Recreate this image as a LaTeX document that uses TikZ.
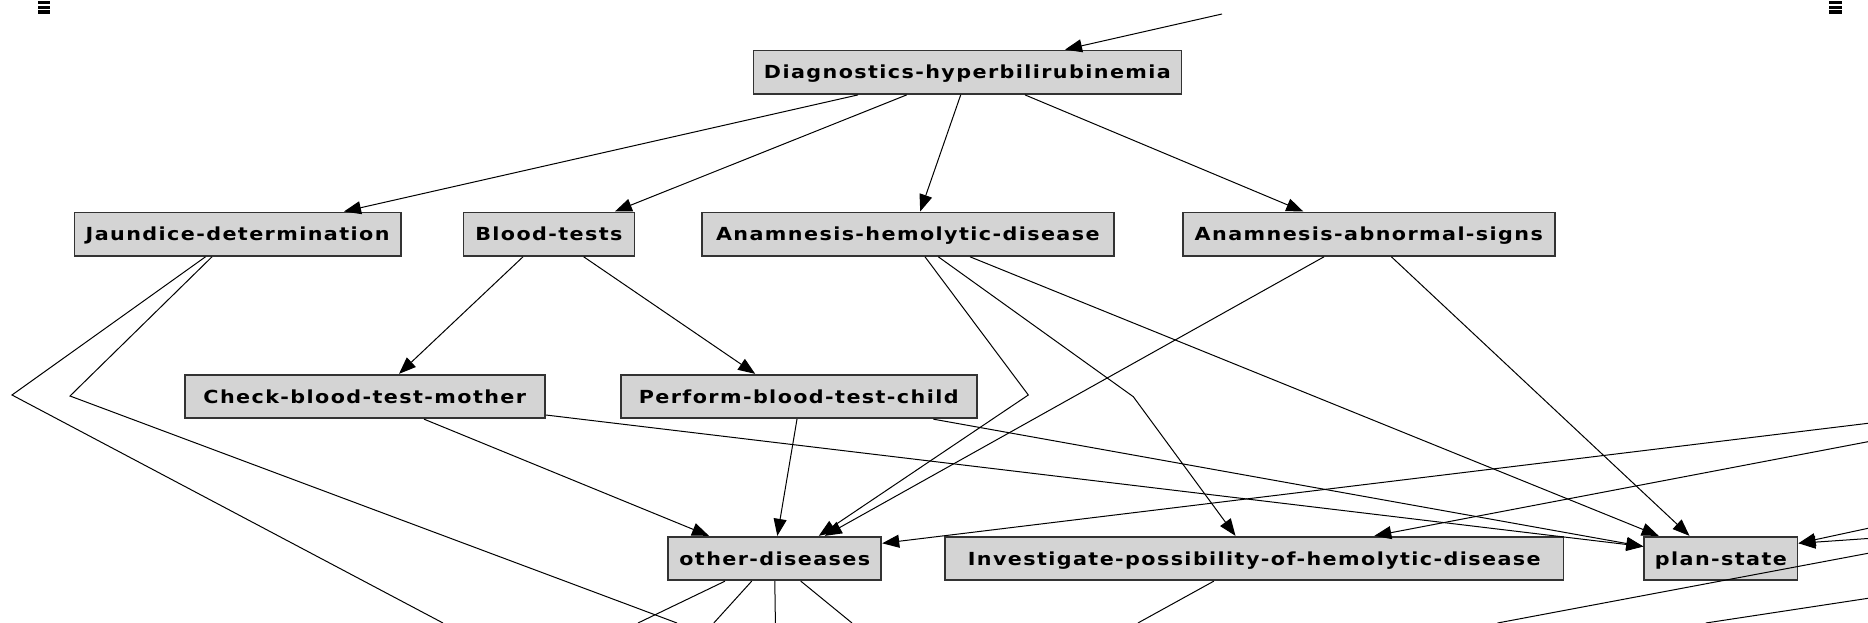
\documentclass[tikz,border=0pt]{standalone}
\usepackage{fontspec}
\newfontfamily\nodefont{DejaVu Sans}[LetterSpace=7.8, FakeStretch=1.15]
\usetikzlibrary{arrows.meta}
\definecolor{boxgray}{HTML}{D4D4D4}

\begin{document}
\begin{tikzpicture}[x=1pt, y=-1pt, line width=1pt, >={Triangle[length=17pt,width=13pt]},
  box/.style={draw=black!80, line width=1.8pt, fill=boxgray, inner sep=0pt, minimum height=43.5pt,
    text height=13.3pt, text depth=0pt, font=\nodefont\bfseries\fontsize{18}{20}\selectfont}]
\useasboundingbox (0,0) rectangle (1868,623);

\foreach \mx in {37.7,1829} {
  \fill (\mx,1) rectangle ++(12.5,3.3);
  \fill (\mx,5.6) rectangle ++(12.5,3.3);
  \fill (\mx,10.2) rectangle ++(12.5,3.6);
}

\node (diag) [box, minimum width=428pt] at (967.4,72.25) {Diagnostics-hyperbilirubinemia};
\node (jaundice) [box, minimum width=326.4pt] at (237.6,234.15) {Jaundice-determination};
\node (blood) [box, minimum width=171pt] at (548.9,234.15) {Blood-tests};
\node (anahem) [box, minimum width=412.3pt] at (907.8,234.15) {Anamnesis-hemolytic-disease};
\node (anaabn) [box, minimum width=371.6pt] at (1368.8,234.15) {Anamnesis-abnormal-signs};
\node (checkmother) [box, minimum width=360.4pt] at (364.8,396.5) {Check-blood-test-mother};
\node (performchild) [box, minimum width=356.2pt] at (798.7,396.5) {Perform-blood-test-child};
\node (other) [box, minimum width=213pt] at (774.8,558.5) {other-diseases};
\node (investigate) [box, minimum width=618.7pt] at (1254.2,558.5) {Investigate-possibility-of-hemolytic-disease};
\node (plan) [box, minimum width=153.3pt] at (1720.9,558.5) {plan-state};

\coordinate (feedtop) at (1222,14);
\coordinate (jbendout) at (12,395);
\coordinate (jendout) at (443,623);
\coordinate (jbendin) at (70,396);
\coordinate (jendin) at (677,623);
\coordinate (hembendother) at (1028.3,395);
\coordinate (hembendinv) at (1133.3,396.7);
\coordinate (rightin1) at (1868,423.3);
\coordinate (rightin2) at (1868,441.7);
\coordinate (rightin3) at (1868,528.3);
\coordinate (rightin4) at (1868,538.5);
\coordinate (otherout1) at (638,623);
\coordinate (otherout2) at (713.8,623);
\coordinate (otherout3) at (775.4,623);
\coordinate (otherout4) at (852,623);
\coordinate (invout) at (1137.9,623);
\coordinate (strayA1) at (1497.5,623);
\coordinate (strayA2) at (1868,553.3);
\coordinate (strayB1) at (1705.8,623);
\coordinate (strayB2) at (1868,598.3);

\draw[->] (feedtop) -- ([xshift=97.6pt]diag.north);
\draw[->] ([xshift=-109.4pt]diag.south) -- ([xshift=106.4pt]jaundice.north);
\draw[->] ([xshift=-60.7pt]diag.south) -- ([xshift=66pt]blood.north);
\draw[->] ([xshift=-6.7pt]diag.south) -- ([xshift=12.4pt]anahem.north);
\draw[->] ([xshift=57.6pt]diag.south) -- ([xshift=-65.5pt]anaabn.north);

\draw ([xshift=-32.1pt]jaundice.south) -- (jbendout) -- (jendout);
\draw ([xshift=-25.6pt]jaundice.south) -- (jbendin) -- (jendin);

\draw[->] ([xshift=-25.9pt]blood.south) -- ([xshift=34.2pt]checkmother.north);
\draw[->] ([xshift=34.8pt]blood.south) -- ([xshift=-43.5pt]performchild.north);

\draw[->] ([xshift=17.2pt]anahem.south) -- (hembendother) -- ([xshift=44pt]other.north);
\draw[->] ([xshift=30.5pt]anahem.south) -- (hembendinv) -- ([xshift=-18.7pt]investigate.north);
\draw[->] ([xshift=62.2pt]anahem.south) -- ([xshift=-62.2pt]plan.north);

\draw[->] ([xshift=-44.8pt]anaabn.south) -- ([xshift=50pt]other.north);
\draw[->] ([xshift=22.6pt]anaabn.south) -- ([xshift=-31.4pt]plan.north);

\draw[->] ([xshift=59.2pt]checkmother.south) -- ([xshift=-65.8pt]other.north);
\draw[->] ([yshift=-18.5pt]checkmother.east) -- ([yshift=12pt]plan.west);
\draw[->] ([xshift=-1.7pt]performchild.south) -- ([xshift=2.5pt]other.north);
\draw[->] ([xshift=134.6pt]performchild.south) -- ([yshift=12pt]plan.west);

\draw[->] (rightin1) -- ([yshift=15.2pt]other.east);
\draw[->] (rightin2) -- ([xshift=120.1pt]investigate.north);
\draw[->] (rightin3) -- ([yshift=15.2pt]plan.east);
\draw[->] (rightin4) -- ([yshift=15.2pt]plan.east);

\draw ([xshift=-49.8pt]other.south) -- (otherout1);
\draw ([xshift=-23.1pt]other.south) -- (otherout2);
\draw (other.south) -- (otherout3);
\draw ([xshift=26pt]other.south) -- (otherout4);
\draw ([xshift=-40.4pt]investigate.south) -- (invout);

\draw (strayA1) -- (strayA2);
\draw (strayB1) -- (strayB2);
\end{tikzpicture}
\end{document}
